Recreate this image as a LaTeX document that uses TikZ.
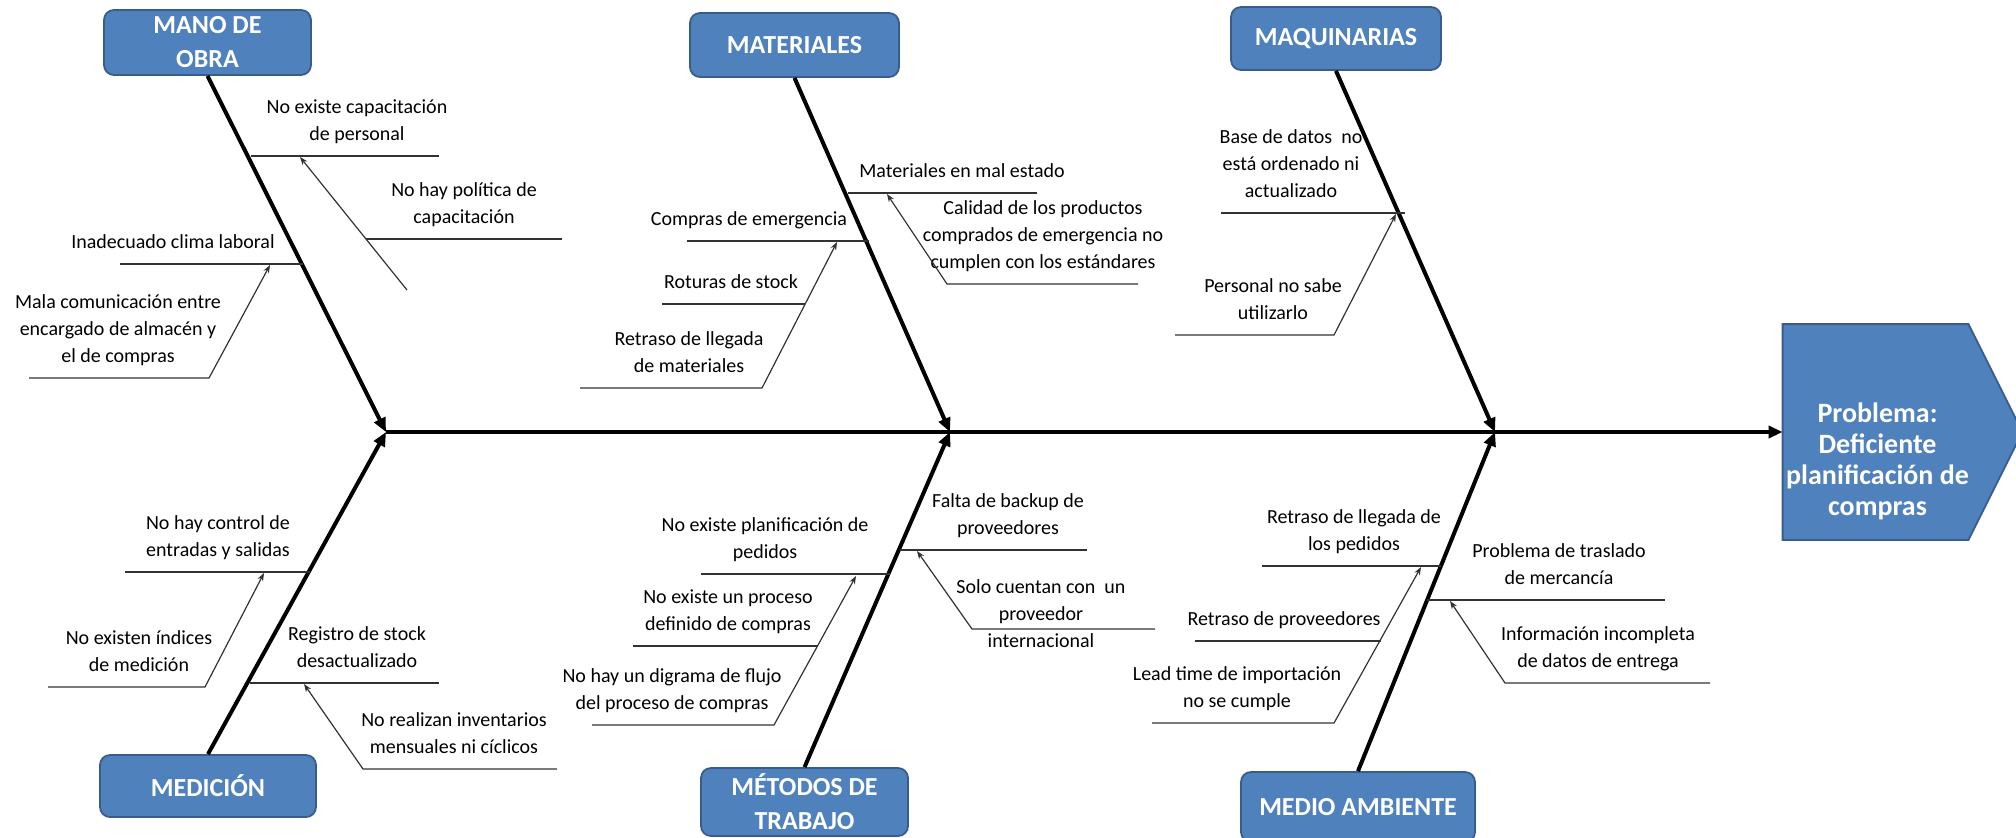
\documentclass[tikz,border=0pt]{standalone}
\usepackage{fontspec}
\setmainfont{Carlito}
\usetikzlibrary{arrows.meta,calc,backgrounds}
\definecolor{boxBlue}{RGB}{79,129,189}
\definecolor{boxEdge}{RGB}{56,93,138}
\definecolor{ribGray}{RGB}{50,50,50}

\tikzset{
  catbox/.style={draw=boxEdge, fill=boxBlue, rounded corners=5pt, line width=0.9pt, text=white,
    font=\bfseries\fontsize{13}{17}\selectfont, align=center, inner sep=1pt},
  cause/.style={font=\fontsize{10}{13.5}\selectfont, align=center, anchor=south,
    inner xsep=0pt, inner ysep=3.4pt, execute at end node=\strut},
  causemid/.style={font=\fontsize{10}{13.5}\selectfont, align=center, inner sep=0pt},
  bone/.style={line width=2pt, -{Triangle[length=7pt,width=6pt]}},
  rib/.style={ribGray, line width=0.7pt},
  ribarrow/.style={ribGray, line width=0.6pt, -{Stealth[length=4pt,width=3pt]}},
}

\begin{document}
\begin{tikzpicture}[x=0.5pt, y=-0.5pt]
  \useasboundingbox (0,0) rectangle (2016,837);

  % categories
  \node[catbox, minimum width=103.5pt, minimum height=32.5pt] (mano) at (207.5,42.5) {MANO DE\\OBRA};
  \node[catbox, minimum width=104.5pt, minimum height=32pt] (materiales) at (794.5,45) {MATERIALES};
  \node[catbox, minimum width=105pt, minimum height=31.5pt] (maquinarias) at (1336,38.5) {MAQUINARIAS};
  \node[catbox, minimum width=108pt, minimum height=31pt] (medicion) at (208,786) {MEDICIÓN};
  \node[catbox, minimum width=103.5pt, minimum height=34pt] (metodos) at (804.5,802) {MÉTODOS DE\\TRABAJO};
  \node[catbox, minimum width=117pt, minimum height=35pt] (medio) at (1358,807) {MEDIO AMBIENTE};

  % problem head
  \node[minimum width=92.5pt, minimum height=107.5pt, inner sep=0pt] (problema) at (1875.5,432) {};
  \node[text=white, font=\bfseries\fontsize{14}{15.5}\selectfont, align=center, inner sep=0pt]
    (problemaTexto) at ($(problema)+(2,29)$) {Problema:\\Deficiente\\planificación de\\compras};
  \begin{scope}[on background layer]
    \filldraw[fill=boxBlue, draw=boxEdge, line width=0.9pt]
      (problema.north west) -- (problema.north east) -- ($(problema.east)+(54,0)$)
      -- (problema.south east) -- (problema.south west) -- cycle;
  \end{scope}

  % spine and bones
  \coordinate (j1) at (386,432);
  \coordinate (j2) at (950,432);
  \coordinate (j3) at (1495,432);
  \draw[bone] (j1) -- (problema.west);
  \draw[bone] (mano.south) -- (j1);
  \draw[bone] (medicion.north) -- (j1);
  \draw[bone] (materiales.south) -- (j2);
  \draw[bone] (metodos.north) -- (j2);
  \draw[bone] (maquinarias.south) -- (j3);
  \draw[bone] (medio.north) -- (j3);

  % mano de obra
  \node[cause] (capPersonal) at (357,156) {No existe capacitación\\de personal};
  \node[cause] (politica) at (464,239) {No hay política de\\capacitación};
  \node[cause] (clima) at (173,264) {Inadecuado clima laboral};
  \node[cause] (comunicacion) at (118,378) {Mala comunicación entre\\encargado de almacén y\\el de compras};
  \draw[rib] (251,156) -- (439,156);
  \draw[rib] (366,239) -- (562,239);
  \draw[ribarrow] (407,290) -- (300,157);
  \draw[rib] (120,264) -- (303,264);
  \draw[ribarrow] (29,378) -- (209,378) -- (270,265);

  % materiales
  \node[cause] (malEstado) at (962,193) {Materiales en mal estado};
  \node[cause] (calidad) at (1043,284) {Calidad de los productos\\comprados de emergencia no\\cumplen con los estándares};
  \node[cause] (emergencia) at (749,241) {Compras de emergencia};
  \node[cause] (roturas) at (731,304) {Roturas de stock};
  \node[cause] (retrasoMat) at (689,388) {Retraso de llegada\\de materiales};
  \draw[rib] (848,193) -- (1037,193);
  \draw[ribarrow] (1138,284) -- (947,284) -- (887,194);
  \draw[rib] (687,241) -- (869,241);
  \draw[rib] (662,304) -- (805,304);
  \draw[ribarrow] (580,388) -- (762,388) -- (837,242);

  % maquinarias
  \node[cause] (baseDatos) at (1291,213) {Base de datos~ no\\está ordenado ni\\actualizado};
  \node[cause] (personal) at (1273,335) {Personal no sabe\\utilizarlo};
  \draw[rib] (1221,213) -- (1405,213);
  \draw[ribarrow] (1175,335) -- (1334,335) -- (1396,214);

  % medicion
  \node[cause] (control) at (218,572) {No hay control de\\entradas y salidas};
  \node[cause] (indices) at (139,687) {No existen índices\\de medición};
  \node[cause] (registro) at (357,683) {Registro de stock\\desactualizado};
  \node[cause] (inventarios) at (454,769) {No realizan inventarios\\mensuales ni cíclicos};
  \draw[rib] (125,572) -- (310,572);
  \draw[ribarrow] (48,687) -- (205,687) -- (264,573);
  \draw[rib] (250,683) -- (439,683);
  \draw[ribarrow] (557,769) -- (363,769) -- (304,684);

  % metodos de trabajo
  \node[cause] (planPedidos) at (765,574) {No existe planificación de\\pedidos};
  \node[cause] (proceso) at (728,646) {No existe un proceso\\definido de compras};
  \node[cause] (flujo) at (672,725) {No hay un digrama de flujo\\del proceso de compras};
  \node[cause] (backup) at (1008,550) {Falta de backup de\\proveedores};
  \node[causemid] (unProveedor) at (1041,614) {Solo cuentan con~ un\\proveedor\\internacional};
  \draw[rib] (701,574) -- (890,574);
  \draw[rib] (633,646) -- (818,646);
  \draw[ribarrow] (592,725) -- (774,725) -- (856,576);
  \draw[rib] (900,550) -- (1087,550);
  \draw[ribarrow] (1155,629) -- (972,629) -- (917,551);

  % medio ambiente
  \node[cause] (retrasoPed) at (1354,566) {Retraso de llegada de\\los pedidos};
  \node[cause] (traslado) at (1559,600) {Problema de traslado\\de mercancía};
  \node[cause] (informacion) at (1598,683) {Información incompleta\\de datos de entrega};
  \node[cause] (retrasoProv) at (1284,641) {Retraso de proveedores};
  \node[cause] (leadTime) at (1237,723) {Lead time de importación\\no se cumple};
  \draw[rib] (1262,566) -- (1441,566);
  \draw[rib] (1427,600) -- (1665,600);
  \draw[ribarrow] (1710,683) -- (1505,683) -- (1450,601);
  \draw[rib] (1195,641) -- (1381,641);
  \draw[ribarrow] (1152,723) -- (1334,723) -- (1421,567);
\end{tikzpicture}
\end{document}
